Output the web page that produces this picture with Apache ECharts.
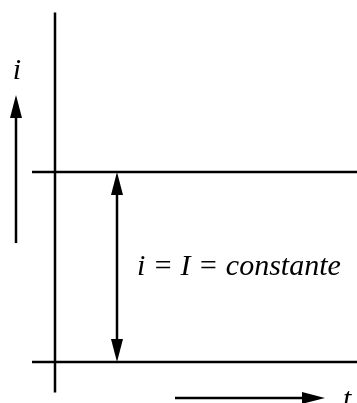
<!DOCTYPE html>
<html>
<head>
<meta charset="utf-8">
<script src="https://cdn.jsdelivr.net/npm/echarts@6/dist/echarts.min.js"></script>
<style>
  html, body { margin: 0; padding: 0; background: #fff; }
  #chart { width: 357px; height: 403px; }
</style>
</head>
<body>
<div id="chart"></div>
<script>
// ---- Schematic data (t in arbitrary time units, i in units of I) ----
const currentLevels = [1, 0];              // i = I (top line) and i = 0 (bottom line)
const levelTimeSpan = [-0.46, 6.1];        // time extent of both level lines
const ordinateTime = 0;                    // the vertical axis sits at t = 0
const ordinateSpan = [-0.16, 1.84];        // current extent of the vertical axis
// arrows: [t1, i1, t2, i2, heads]  (heads: 1 = at end, 2 = both ends)
const measureArrow = [1.24, 0, 1.24, 1, 2];      // double arrow between levels
const currentDirArrow = [-0.78, 0.626, -0.78, 1.405, 1];
const timeDirArrow = [2.4, -0.189, 5.4, -0.189, 1];
// text labels: [t, i, text]
const labelI = [-0.76, 1.53, 'i'];
const labelT = [5.76, -0.2, 't'];
const labelEq = [1.64, 0.5, 'i = I = constante'];

const FONT = '"Liberation Serif", "DejaVu Serif", serif';

function renderArrow(params, api) {
  const p1 = api.coord([api.value(0), api.value(1)]);
  const p2 = api.coord([api.value(2), api.value(3)]);
  const heads = api.value(4);
  const dx = p2[0] - p1[0], dy = p2[1] - p1[1];
  const len = Math.hypot(dx, dy);
  const ux = dx / len, uy = dy / len;
  const hl = 23, hw = 6;
  const a = heads === 2 ? [p1[0] + ux * (hl - 1), p1[1] + uy * (hl - 1)] : p1;
  const b = [p2[0] - ux * (hl - 1), p2[1] - uy * (hl - 1)];
  const children = [{
    type: 'line',
    shape: { x1: a[0], y1: a[1], x2: b[0], y2: b[1] },
    style: { stroke: '#000', lineWidth: 2.5 }
  }];
  function head(tip, vx, vy) {
    const bx = tip[0] - vx * hl, by = tip[1] - vy * hl;
    return {
      type: 'polygon',
      shape: { points: [tip, [bx - vy * hw, by + vx * hw], [bx + vy * hw, by - vx * hw]] },
      style: { fill: '#000' }
    };
  }
  children.push(head(p2, ux, uy));
  if (heads === 2) children.push(head(p1, -ux, -uy));
  return { type: 'group', children };
}

const labelData = [
  [labelI[0], labelI[1], labelI[2], 'center'],
  [labelT[0], labelT[1], labelT[2], 'left'],
  [labelEq[0], labelEq[1], labelEq[2], 'left']
];

function renderLabel(params, api) {
  const p = api.coord([api.value(0), api.value(1)]);
  const d = labelData[params.dataIndex];
  return {
    type: 'text',
    x: p[0], y: p[1],
    style: {
      text: d[2],
      font: 'italic 30px ' + FONT,
      fill: '#000',
      align: d[3],
      verticalAlign: 'middle'
    }
  };
}

const lineStyle = { color: '#000', width: 2.5 };
const levelSeries = currentLevels.map(lv => ({
  type: 'line',
  data: [[levelTimeSpan[0], lv], [levelTimeSpan[1], lv]],
  symbol: 'none', lineStyle, clip: false, silent: true, animation: false
}));

const chart = echarts.init(document.getElementById('chart'), null, { renderer: 'canvas' });
chart.setOption({
  animation: false,
  backgroundColor: '#fff',
  grid: { left: 0, right: 2, top: 1, bottom: 3 },
  xAxis: { type: 'value', min: -1.1, max: 6, show: false },
  yAxis: { type: 'value', min: -0.2, max: 1.9, show: false },
  series: [
    ...levelSeries,
    {
      type: 'line',
      data: [[ordinateTime, ordinateSpan[0]], [ordinateTime, ordinateSpan[1]]],
      symbol: 'none', lineStyle, clip: false, silent: true
    },
    {
      type: 'custom',
      renderItem: renderArrow,
      encode: { x: [0, 2], y: [1, 3] },
      data: [measureArrow, currentDirArrow, timeDirArrow],
      clip: false, silent: true
    },
    {
      type: 'custom',
      renderItem: renderLabel,
      encode: { x: 0, y: 1 },
      data: labelData.map(d => [d[0], d[1]]),
      clip: false, silent: true
    }
  ]
});
</script>
</body>
</html>
